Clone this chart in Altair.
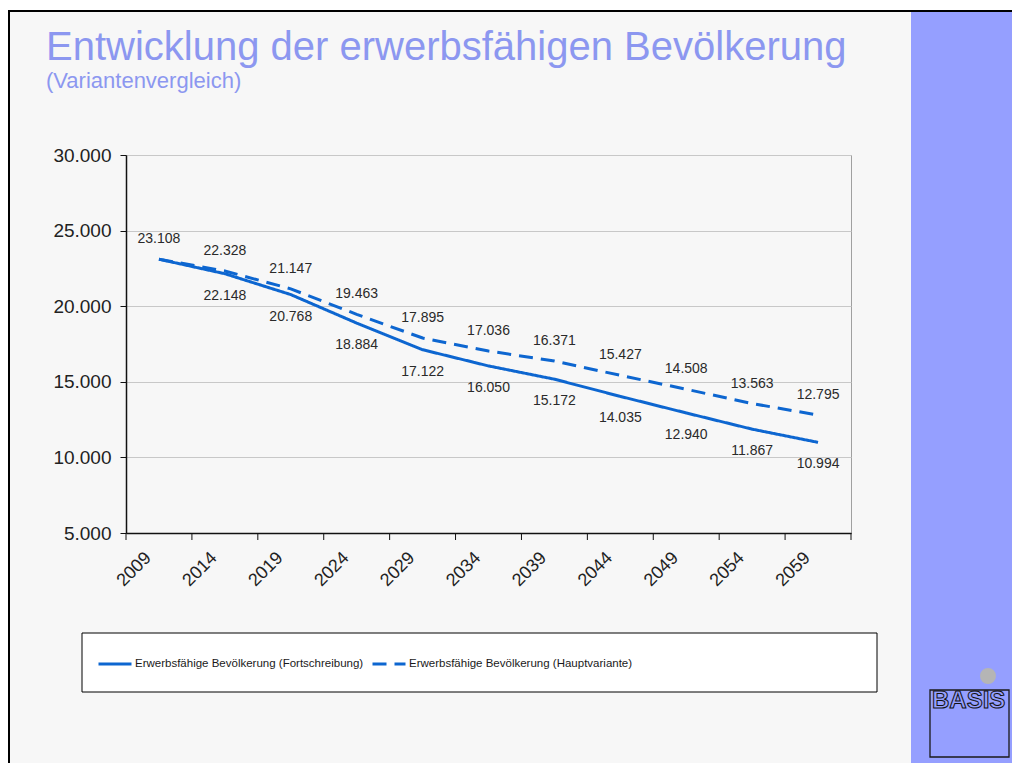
import altair as alt
import pandas as pd

# ---------------- data ----------------
years = [2009, 2014, 2019, 2024, 2029, 2034, 2039, 2044, 2049, 2054, 2059]
fortschreibung = [23108, 22148, 20768, 18884, 17122, 16050, 15172, 14035, 12940, 11867, 10994]
hauptvariante = [23108, 22328, 21147, 19463, 17895, 17036, 16371, 15427, 14508, 13563, 12795]
series_names = [
    "Erwerbsfähige Bevölkerung (Fortschreibung)",
    "Erwerbsfähige Bevölkerung (Hauptvariante)",
]
y_ticks = [5000, 10000, 15000, 20000, 25000, 30000]
title_text = "Entwicklung der erwerbsfähigen Bevölkerung"
subtitle_text = "(Variantenvergleich)"
logo_text = "BASIS"

# ---------------- styles ----------------
BLUE = "#0d66d0"
TITLE_COL = "#8c97f0"
PANEL = "#959fff"
BG = "#f7f7f7"
FONT = "Liberation Sans"

rows = []
for i, yr in enumerate(years):
    rows.append({"Jahr": yr, "Wert": fortschreibung[i], "Reihe": series_names[0], "show": i > 0})
    rows.append({"Jahr": yr, "Wert": hauptvariante[i], "Reihe": series_names[1], "show": True})
df = pd.DataFrame(rows)

half = (years[1] - years[0]) / 2
boundaries = [yr - half for yr in years] + [years[-1] + half]
bdf = pd.DataFrame({"b": boundaries})

x_scale = alt.Scale(domain=[boundaries[0], boundaries[-1]], nice=False, zero=False)
x_enc = alt.X(
    "Jahr:Q",
    scale=x_scale,
    axis=alt.Axis(
        title=None,
        values=years,
        format="d",
        labelAngle=-45,
        labelAlign="right",
        labelBaseline="middle",
        labelFontSize=18,
        labelFont=FONT,
        labelColor="#222222",
        labelPadding=22,
        labelOffset=-11,
        labelOverlap=False,
        labelFlush=False,
        ticks=False,
        tickSize=0,
        domainColor="#111111",
        domainWidth=1.5,
        grid=False,
    ),
)
y_enc = alt.Y(
    "Wert:Q",
    scale=alt.Scale(domain=[y_ticks[0], y_ticks[-1]], nice=False, zero=False),
    axis=alt.Axis(
        title=None,
        values=y_ticks,
        labelExpr="replace(format(datum.value, ',d'), ',', '.')",
        labelFontSize=19,
        labelFont=FONT,
        labelColor="#222222",
        labelPadding=9,
        tickSize=6,
        tickColor="#111111",
        domainColor="#111111",
        domainWidth=1.5,
        grid=True,
        gridColor="#c8c8c8",
        gridWidth=1,
    ),
)

lines = alt.Chart(df).mark_line(strokeWidth=3, color=BLUE).encode(
    x=x_enc,
    y=y_enc,
    strokeDash=alt.StrokeDash(
        "Reihe:N",
        scale=alt.Scale(domain=series_names, range=[[1, 0], [14, 8]]),
        legend=alt.Legend(
            title=None,
            orient="none",
            legendX=-29,
            legendY=491,
            direction="horizontal",
            symbolType="stroke",
            symbolSize=1089,
            symbolStrokeWidth=3,
            symbolStrokeColor=BLUE,
            labelFont=FONT,
            labelFontSize=11.5,
            labelLimit=0,
            labelColor="#1a1a1a",
            labelOffset=2,
            columnPadding=2,
            padding=0,
        ),
    ),
    detail="Reihe:N",
)

# tick marks between the year categories
xticks = alt.Chart(bdf).mark_rule(color="#111111", strokeWidth=1).encode(
    x=alt.X("b:Q", scale=x_scale), y=alt.value(378), y2=alt.value(385)
)

fmt = "replace(format(datum.Wert, ',d'), ',', '.')"
labels_h = (
    alt.Chart(df)
    .transform_filter(alt.datum.Reihe == series_names[1])
    .transform_calculate(lab=fmt)
    .mark_text(dy=-20, fontSize=14, font=FONT, color="#2a2a2a")
    .encode(x="Jahr:Q", y="Wert:Q", text="lab:N")
)
labels_f = (
    alt.Chart(df)
    .transform_filter((alt.datum.Reihe == series_names[0]) & alt.datum.show)
    .transform_calculate(lab=fmt)
    .mark_text(dy=22, fontSize=14, font=FONT, color="#2a2a2a")
    .encode(x="Jahr:Q", y="Wert:Q", text="lab:N")
)

one = pd.DataFrame({"k": [0]})


def box(x, x2, y, y2, **kw):
    return alt.Chart(one).mark_rect(**kw).encode(
        x=alt.value(x), x2=alt.value(x2), y=alt.value(y), y2=alt.value(y2)
    )


white_strip = box(-118, 886, -147, -145, color="white")
top_line = box(-118, 886, -145, -143, color="#000000")
left_line = box(-118, -116, -145, 608, color="#000000")
panel = box(785, 886, -143, 608, color=PANEL)
legend_box = box(-44, 751, 478, 537, fill="white", stroke="#000000", strokeWidth=1)
logo_box = box(804, 883, 535, 602, fill=PANEL, stroke="#1a1a1a", strokeWidth=1.3)

title = alt.Chart(one).mark_text(
    align="left", baseline="alphabetic", fontSize=40, font=FONT, color=TITLE_COL
).encode(x=alt.value(-80), y=alt.value(-95), text=alt.value(title_text))
subtitle = alt.Chart(one).mark_text(
    align="left", baseline="alphabetic", fontSize=22, font=FONT, color=TITLE_COL
).encode(x=alt.value(-80), y=alt.value(-67), text=alt.value(subtitle_text))

logo_dot = alt.Chart(one).mark_circle(size=254, color="#b5b5b5", opacity=1).encode(
    x=alt.value(862), y=alt.value(521)
)
logo_txt = alt.Chart(one).mark_text(
    align="left", baseline="alphabetic", fontSize=24, font=FONT, fontWeight="bold",
    fill=PANEL, stroke="#111111", strokeWidth=1,
).encode(x=alt.value(806), y=alt.value(553), text=alt.value(logo_text))

chart = (
    alt.layer(
        white_strip, top_line, left_line, panel, legend_box, logo_box,
        title, subtitle, logo_dot, logo_txt,
        lines, xticks, labels_h, labels_f,
    )
    .properties(
        width=725,
        height=378,
        autosize=alt.AutoSizeParams(type="none"),
        padding={"left": 118, "top": 147, "right": 161, "bottom": 230},
    )
    .configure(background=BG)
    .configure_view(stroke="#a0a0a0", strokeWidth=1)
)

chart.save("out.html", embed_options={"renderer": "svg", "actions": False})
